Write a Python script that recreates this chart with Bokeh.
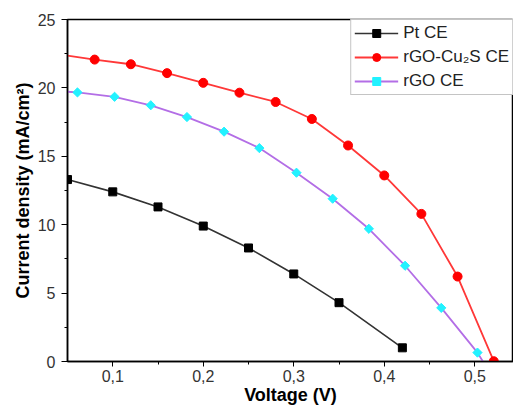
from bokeh.plotting import figure
from bokeh.models import Range1d, FixedTicker, CustomJSTickFormatter
from bokeh.embed import file_html
from bokeh.resources import INLINE

# ---- data ----
x_ticks = [0.1, 0.2, 0.3, 0.4, 0.5]
x_minor = [0.15, 0.25, 0.35, 0.45]
y_ticks = [0, 5, 10, 15, 20, 25]
y_minor = [2.5, 7.5, 12.5, 17.5, 22.5]

pt_v = [0.05, 0.10, 0.15, 0.20, 0.25, 0.30, 0.35, 0.42]
pt_j = [13.3, 12.4, 11.3, 9.9, 8.3, 6.4, 4.3, 1.0]

# first point is the line's value at the left edge of the plot (no marker there)
cus_v = [0.05, 0.08, 0.12, 0.16, 0.20, 0.24, 0.28, 0.32, 0.36, 0.40, 0.441, 0.481, 0.521]
cus_j = [22.36, 22.07, 21.73, 21.08, 20.37, 19.65, 18.97, 17.73, 15.79, 13.6, 10.79, 6.21, 0.02]

# first / last points are the line's ends (at the left edge and at J = 0), no marker there
rgo_v = [0.05, 0.061, 0.102, 0.142, 0.182, 0.223, 0.262, 0.303, 0.343, 0.383, 0.423, 0.463, 0.503, 0.509]
rgo_j = [19.72, 19.67, 19.35, 18.73, 17.87, 16.8, 15.6, 13.8, 11.9, 9.7, 7.0, 3.92, 0.65, 0.0]

FONT = "Liberation Sans"

p = figure(width=513, height=407, output_backend="svg", toolbar_location=None,
           x_range=Range1d(0.05, 0.5428), y_range=Range1d(0, 25),
           min_border_left=67, min_border_right=0, min_border_top=19, min_border_bottom=44)
p.background_fill_color = "white"
p.border_fill_color = "white"
p.grid.visible = False
p.outline_line_color = "black"
p.outline_line_width = 1.5
p.outline_line_alpha = 1.0

# axes
for ax in (p.xaxis[0], p.yaxis[0]):
    ax.axis_line_color = "black"
    ax.axis_line_width = 1.5
    ax.major_tick_line_color = "black"
    ax.minor_tick_line_color = "black"
    ax.major_tick_in = 0
    ax.minor_tick_in = 0
    ax.major_label_text_font = FONT
    ax.major_label_text_font_size = "16px"
    ax.major_label_text_color = "#333333"
    ax.axis_label_text_font = FONT
    ax.axis_label_text_font_size = "18px"
    ax.axis_label_text_font_style = "bold"
    ax.axis_label_text_color = "black"

p.xaxis.ticker = FixedTicker(ticks=x_ticks, minor_ticks=x_minor)
p.xaxis.formatter = CustomJSTickFormatter(code="return tick.toFixed(1).replace('.', ',');")
p.xaxis.major_tick_out = 5
p.xaxis.minor_tick_out = 3
p.xaxis.major_label_standoff = 3
p.xaxis.axis_label = "Voltage (V)"
p.xaxis.axis_label_standoff = 0

p.yaxis.ticker = FixedTicker(ticks=y_ticks, minor_ticks=y_minor)
p.yaxis.major_tick_out = 6
p.yaxis.minor_tick_out = 3
p.yaxis.major_label_standoff = 6
p.yaxis.axis_label = "Current density (mA/cm²)"
p.yaxis.axis_label_standoff = 2

# series
p.line(pt_v, pt_j, line_color="#333333", line_width=1.6, legend_label="Pt CE")
p.scatter(pt_v, pt_j, marker="square", size=8, fill_color="black", line_color="black",
          legend_label="Pt CE")

p.line(cus_v, cus_j, line_color="#ff3838", line_width=1.8, legend_label="rGO-Cu₂S CE")
p.scatter(cus_v[1:], cus_j[1:], marker="circle", size=9, fill_color="#ff0000",
          line_color="#ff0000", legend_label="rGO-Cu₂S CE")

p.line(rgo_v, rgo_j, line_color="#b36ee6", line_width=1.8, legend_label="rGO CE")
p.scatter(rgo_v[1:-1], rgo_j[1:-1], marker="square", angle=0.785398, size=6.5,
          fill_color="#22f2ff", line_color="#22f2ff", legend_label="rGO CE")

lg = p.legend[0]
lg.location = "top_right"
lg.margin = 0
lg.padding = 3
lg.spacing = 4
lg.glyph_width = 44
lg.glyph_height = 20
lg.label_height = 20
lg.label_standoff = 5
lg.label_text_font = FONT
lg.label_text_font_size = "17px"
lg.label_text_color = "#222222"
lg.border_line_color = "#8a8a8a"
lg.border_line_width = 1
lg.background_fill_color = "white"
lg.background_fill_alpha = 1.0

open("out.html", "w").write(file_html(p, INLINE))
